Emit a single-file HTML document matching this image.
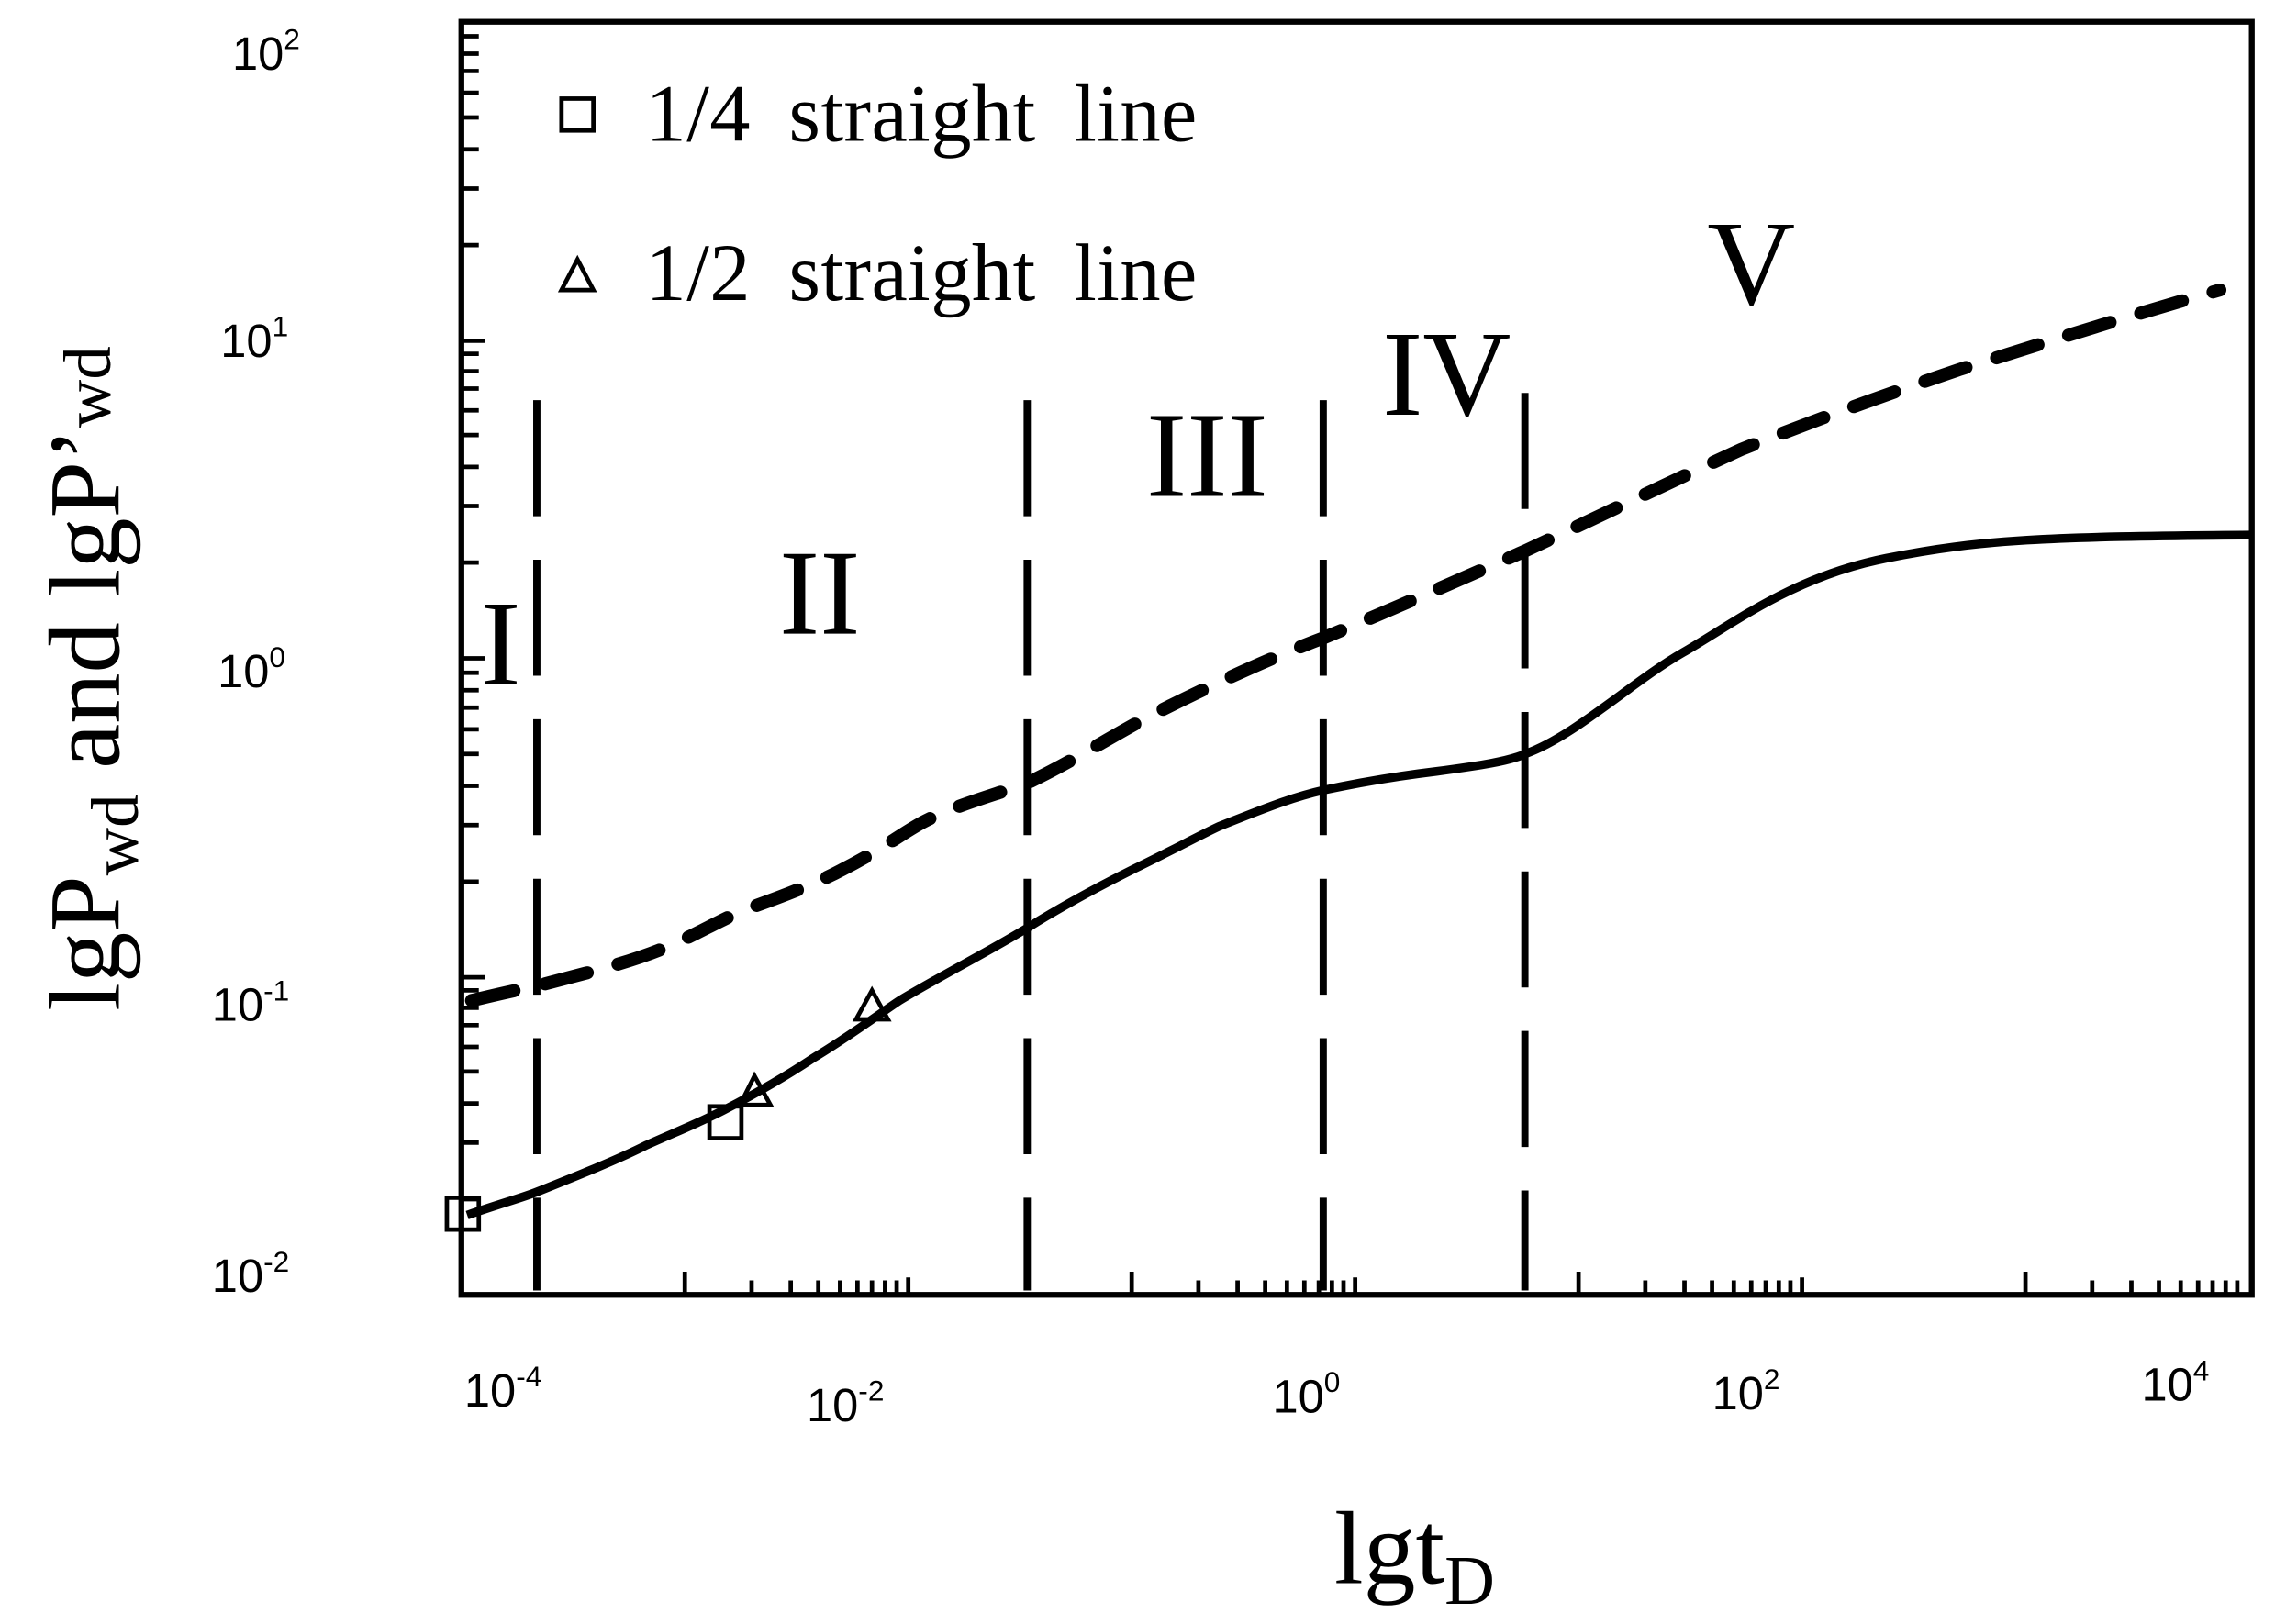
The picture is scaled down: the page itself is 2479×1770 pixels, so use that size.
<!DOCTYPE html>
<html><head><meta charset="utf-8"><style>html,body{margin:0;padding:0;background:#fff}svg{display:block}</style></head>
<body>
<svg width="2479" height="1770" viewBox="0 0 1568 1120" preserveAspectRatio="none" xmlns="http://www.w3.org/2000/svg">
<rect width="1568" height="1120" fill="#fff"/>
<g stroke="#000" stroke-width="3">
<path d="M472 893v-16 M518 893v-10 M545 893v-10 M564 893v-10 M579 893v-10 M591 893v-10 M601 893v-10 M610 893v-10 M618 893v-10 M626 893v-12
M780 893v-16 M826 893v-10 M853 893v-10 M872 893v-10 M887 893v-10 M899 893v-10 M909 893v-10 M918 893v-10 M926 893v-10 M934 893v-12
M1088 893v-16 M1134 893v-10 M1161 893v-10 M1180 893v-10 M1195 893v-10 M1207 893v-10 M1217 893v-10 M1226 893v-10 M1234 893v-10 M1242 893v-12
M1396 893v-16 M1442 893v-10 M1469 893v-10 M1488 893v-10 M1503 893v-10 M1515 893v-10 M1525 893v-10 M1534 893v-10 M1542 893v-10"/>
<path d="M318 827h12 M318 788h12 M318 761h12 M318 739h12 M318 722h12 M318 707h12 M318 695h12 M318 683h12 M318 674h16
M318 608h12 M318 569h12 M318 542h12 M318 520h12 M318 503h12 M318 488h12 M318 476h12 M318 464h12 M318 454h16
M318 388h12 M318 349h12 M318 322h12 M318 300h12 M318 283h12 M318 268h12 M318 256h12 M318 244h12 M318 235h16
M318 169h12 M318 130h12 M318 103h12 M318 81h12 M318 64h12 M318 49h12 M318 37h12 M318 25h12"/>
</g>
<rect x="318" y="15" width="1234" height="878" fill="none" stroke="#000" stroke-width="4"/>
<g stroke="#000" stroke-width="5" stroke-dasharray="80 30" fill="none">
<path d="M370 276V890"/><path d="M708 276V890"/><path d="M912 276V890"/><path d="M1051 271V890"/>
</g>
<path d="M325 690 C350 684 360 682 370 680 C400 672 430 665 455 655 C480 645 500 632 520 625 C545 616 565 608 580 600 C610 585 625 572 640 565 C665 553 690 547 708 540 C740 525 770 505 800 490 C840 470 880 452 912 440 C960 420 1010 398 1051 380 C1100 357 1150 333 1200 310 C1250 290 1300 272 1350 255 C1410 236 1470 217 1530 200" fill="none" stroke="#000" stroke-width="9" stroke-dasharray="30 22" stroke-linecap="round"/>
<path d="M322 838 C345 830 360 826 370 822 C400 810 425 800 445 790 C465 781 485 773 500 765 C525 752 545 740 560 730 C585 715 605 700 620 690 C650 672 680 657 708 640 C735 623 760 610 780 600 C805 588 825 577 840 570 C870 558 890 550 912 545 C940 539 965 535 990 532 C1020 528 1040 525 1051 520 C1085 508 1125 470 1160 450 S1235 398 1300 385 S1410 370 1552 369" fill="none" stroke="#000" stroke-width="6"/>
<g fill="none" stroke="#000" stroke-width="3">
<rect x="308" y="826" width="22" height="22"/>
<rect x="489" y="763" width="22" height="22"/>
<path d="M520 742 L510 762 L531 762 Z"/>
<path d="M601 683 L590 703 L612 703 Z"/>
<rect x="387" y="68" width="22" height="22"/>
<path d="M398 179 L387 200 L409 200 Z"/>
</g>
<g font-family="Liberation Serif, serif" fill="#000">
<text x="445" y="97" font-size="56" word-spacing="12" textLength="380">1/4 straight line</text>
<text x="445" y="207" font-size="56" word-spacing="12" textLength="380">1/2 straight line</text>
<text x="345" y="472" font-size="84" text-anchor="middle">I</text>
<text x="565" y="437" font-size="84" text-anchor="middle">II</text>
<text x="832" y="342" font-size="84" text-anchor="middle">III</text>
<text x="997" y="286" font-size="84" text-anchor="middle">IV</text>
<text x="1207" y="210" font-size="84" text-anchor="middle">V</text>
<text x="975" y="1092" font-size="72" text-anchor="middle">lgt<tspan font-size="48" dy="14">D</tspan></text>
<text transform="translate(82 468) rotate(-90)" font-size="70" text-anchor="middle">lgP<tspan font-size="46" dy="13">wd</tspan><tspan dy="-13"> and lgP’</tspan><tspan font-size="46" dy="-6">wd</tspan></text>
</g>
<g font-family="Liberation Sans, sans-serif" font-size="32" fill="#000">
<text x="160" y="48">10<tspan font-size="20" dy="-14">2</tspan></text>
<text x="152" y="246">10<tspan font-size="20" dy="-14">1</tspan></text>
<text x="150" y="474">10<tspan font-size="20" dy="-14">0</tspan></text>
<text x="146" y="704">10<tspan font-size="20" dy="-14">-1</tspan></text>
<text x="146" y="891">10<tspan font-size="20" dy="-14">-2</tspan></text>
<text x="320" y="970">10<tspan font-size="20" dy="-14">-4</tspan></text>
<text x="556" y="980">10<tspan font-size="20" dy="-14">-2</tspan></text>
<text x="877" y="974">10<tspan font-size="20" dy="-14">0</tspan></text>
<text x="1180" y="972">10<tspan font-size="20" dy="-14">2</tspan></text>
<text x="1476" y="966">10<tspan font-size="20" dy="-14">4</tspan></text>
</g>
</svg>
</body></html>
